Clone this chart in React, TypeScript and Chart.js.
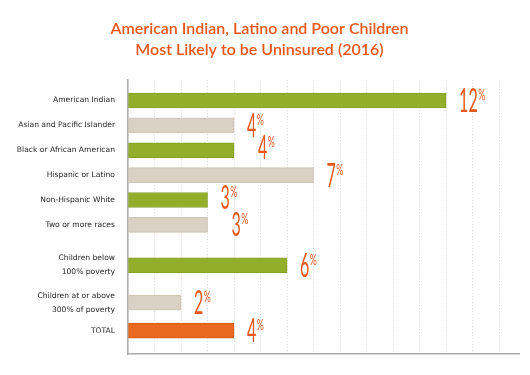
import { useEffect, useRef } from 'react';
import { Chart, registerables } from 'chart.js';

Chart.register(...registerables);

// ---------- data ----------
const TITLE = ['American Indian, Latino and Poor Children', 'Most Likely to be Uninsured (2016)'];

const CATEGORIES: (string | string[])[] = [
  'American Indian',
  'Asian and Pacific Islander',
  'Black or African American',
  'Hispanic or Latino',
  'Non-Hispanic White',
  'Two or more races',
  ['Children below', '100% poverty'],
  ['Children at or above', '300% of poverty'],
  'TOTAL',
];

const VALUES = [12, 4, 4, 7, 3, 3, 6, 2, 4];

const BAR_KIND = ['green', 'beige', 'green', 'beige', 'green', 'beige', 'green', 'beige', 'total'];

const X_TICKS = [0, 1, 2, 3, 4, 5, 6, 7, 8, 9, 10, 11, 12, 13, 14];

// ---------- layout / style ----------
const SLOT_COUNT = 88;
const ROW_SLOTS = [6, 14, 22, 30, 38, 46, 59, 71, 80];
const X_MAX = 14.75;

const FILL: Record<string, string> = { green: '#93AE2B', beige: '#D9D1C3', total: '#E8691F' };
const EDGE: Record<string, string> = { green: '#87A126', beige: '#CCC3B3', total: '#D65A15' };
const ORANGE = '#E8571B';

// per-row label nudges [dx, dy] (the reference staggers a couple of labels)
const LABEL_NUDGE: [number, number][] = [
  [0, 0], [0, 0], [11, -3], [0, 0], [0, -3], [11, 0], [0, 0], [0, 0], [0, 0],
];

const valueLabelPlugin = {
  id: 'valueLabels',
  afterDatasetsDraw(chart: any) {
    const meta = chart.getDatasetMeta(0);
    const ctx = chart.ctx as CanvasRenderingContext2D;
    const squeeze = 0.5;
    ROW_SLOTS.forEach((slot, i) => {
      const el = meta.data[slot];
      if (!el) return;
      const [dx, dy] = LABEL_NUDGE[i];
      const x = el.x + 13 + dx;
      const y = el.y + dy;
      const txt = String(VALUES[i]);
      ctx.save();
      ctx.fillStyle = ORANGE;
      ctx.font = '400 32px Lato';
      ctx.textBaseline = 'alphabetic';
      ctx.textAlign = 'left';
      const w = ctx.measureText(txt).width * squeeze;
      ctx.translate(x, y + 11.5);
      ctx.scale(squeeze, 1);
      ctx.fillText(txt, 0, 0);
      ctx.restore();
      ctx.save();
      ctx.fillStyle = ORANGE;
      ctx.font = '400 16px Lato';
      ctx.textBaseline = 'alphabetic';
      ctx.translate(x + w + 0.5, y - 0.5);
      ctx.scale(0.55, 1);
      ctx.fillText('%', 0, 0);
      ctx.restore();
    });
  },
};

export default function App() {
  const ref = useRef<HTMLCanvasElement | null>(null);

  useEffect(() => {
    document.body.style.margin = '0';
    if (!ref.current) return;

    const labels: (string | string[])[] = Array(SLOT_COUNT).fill('');
    const data: (number | null)[] = Array(SLOT_COUNT).fill(null);
    const bg: string[] = Array(SLOT_COUNT).fill('transparent');
    const bd: string[] = Array(SLOT_COUNT).fill('transparent');
    ROW_SLOTS.forEach((slot, i) => {
      labels[slot] = CATEGORIES[i];
      data[slot] = VALUES[i];
      bg[slot] = FILL[BAR_KIND[i]];
      bd[slot] = EDGE[BAR_KIND[i]];
    });

    const chart = new Chart(ref.current, {
      type: 'bar',
      data: {
        labels,
        datasets: [
          {
            data,
            backgroundColor: bg,
            borderColor: bd,
            borderWidth: 1,
            borderSkipped: false,
            barThickness: 15,
          },
        ],
      },
      plugins: [valueLabelPlugin],
      options: {
        indexAxis: 'y',
        responsive: false,
        animation: false,
        layout: { padding: { left: 0, right: 11, top: 0, bottom: 21 } },
        plugins: {
          legend: { display: false },
          tooltip: { enabled: false },
          title: {
            display: true,
            text: TITLE,
            color: ORANGE,
            font: { family: 'Lato', size: 16, weight: '600', lineHeight: 1.32 },
            padding: { top: 18, bottom: 20 },
          },
        },
        scales: {
          x: {
            type: 'linear',
            min: 0,
            max: X_MAX,
            afterBuildTicks: (scale: any) => {
              scale.ticks = X_TICKS.map((v) => ({ value: v }));
            },
            ticks: { display: false },
            grid: { color: '#d6d6d6', lineWidth: 1, drawTicks: false },
            border: { display: true, color: '#ababab', width: 1.5, dash: [1, 2] },
          },
          y: {
            type: 'category',
            afterFit: (scale: any) => {
              scale.width = 128;
            },
            grid: { display: false, drawTicks: false },
            border: { display: true, color: '#ababab', width: 1.5 },
            ticks: {
              autoSkip: false,
              padding: 13,
              color: '#262626',
              font: { family: 'DejaVu Sans', size: 7.6, lineHeight: 1.85 },
            },
          },
        },
      },
    } as any);

    return () => chart.destroy();
  }, []);

  return (
    <div style={{ width: 530, height: 375, background: '#fff' }}>
      <canvas ref={ref} width={530} height={375} />
    </div>
  );
}
